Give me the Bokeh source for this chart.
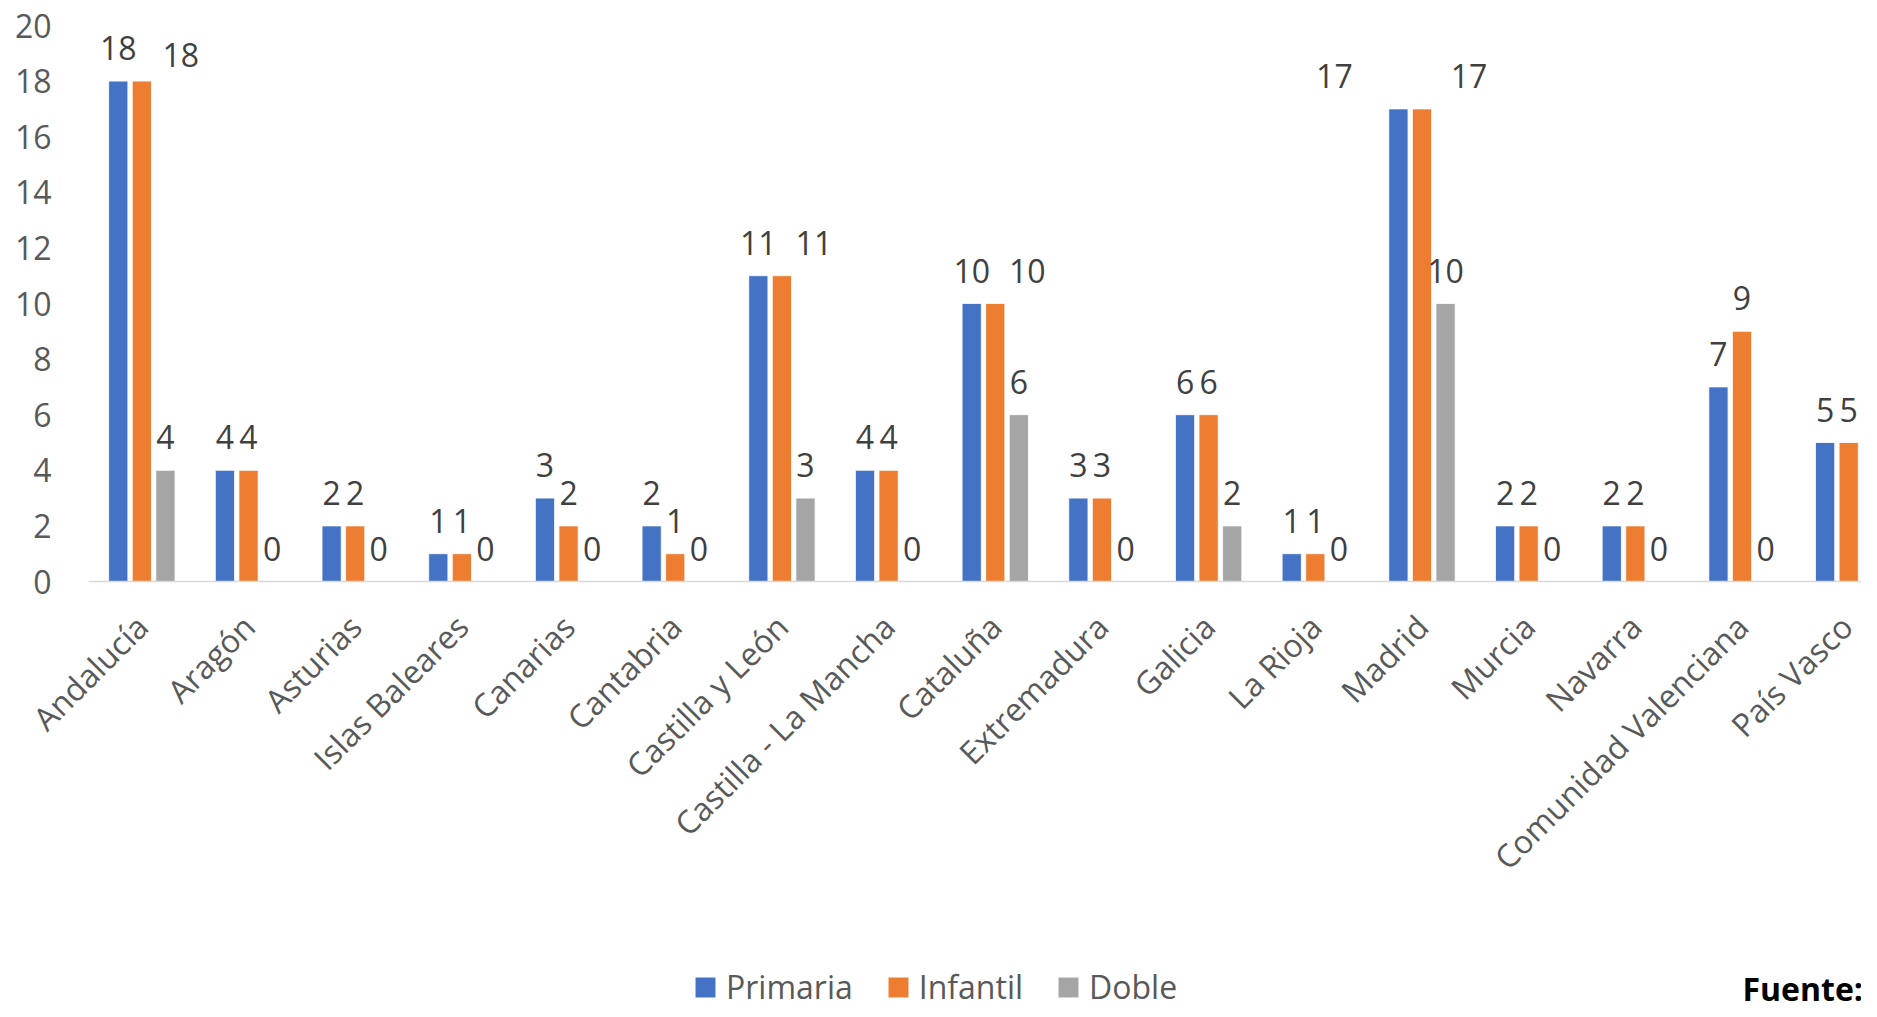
import math
from bokeh.plotting import figure
from bokeh.layouts import column
from bokeh.models import (Range1d, FixedTicker, ColumnDataSource, Legend,
                          LegendItem, Label)
from bokeh.core.properties import value
from bokeh.embed import file_html
from bokeh.resources import INLINE

# ---------------- data ----------------
regions = ["Andalucía", "Aragón", "Asturias", "Islas Baleares", "Canarias",
           "Cantabria", "Castilla y León", "Castilla - La Mancha", "Cataluña",
           "Extremadura", "Galicia", "La Rioja", "Madrid", "Murcia", "Navarra",
           "Comunidad Valenciana", "País Vasco"]
primaria = [18, 4, 2, 1, 3, 2, 11, 4, 10, 3, 6, 1, 17, 2, 2, 7, 5]
infantil = [18, 4, 2, 1, 2, 1, 11, 4, 10, 3, 6, 1, 17, 2, 2, 9, 5]
doble = [4, 0, 0, 0, 0, 0, 3, 0, 6, 0, 2, 0, 10, 0, 0, 0, 0]
series_names = ["Primaria", "Infantil", "Doble"]
y_ticks = [0, 2, 4, 6, 8, 10, 12, 14, 16, 18, 20]
source_note = "Fuente:"

# ---------------- style ----------------
colors = {"Primaria": "#4472C4", "Infantil": "#ED7D31", "Doble": "#A5A5A5"}
dodge = {"Primaria": -0.221, "Infantil": 0.0, "Doble": 0.221}
bar_w = 0.18
FONT = "Open Sans"
FS = "32px"
# data-label nudges in screen pixels (Excel placed some labels aside)
nudges = {("Primaria", "Madrid"): (-64, 0),
          ("Infantil", "Andalucía"): (39, 7),
          ("Infantil", "Castilla y León"): (32, 0),
          ("Infantil", "Cataluña"): (32, 0),
          ("Infantil", "Madrid"): (47, 0)}

W = 1861
H_MAIN, H_LEG = 938, 63
FRAME_LEFT, FRAME_TOP, FRAME_BOTTOM = 88, 25, 581

p = figure(width=W, height=H_MAIN, x_range=Range1d(-0.5, 16.12),
           y_range=Range1d(0, 20), output_backend="svg",
           toolbar_location=None)
p.outline_line_color = None
p.xgrid.grid_line_color = None
p.ygrid.grid_line_color = None
p.min_border_left = FRAME_LEFT
p.min_border_right = 0
p.min_border_top = FRAME_TOP
p.min_border_bottom = H_MAIN - FRAME_BOTTOM
p.background_fill_color = "white"
p.border_fill_color = "white"

values = {"Primaria": primaria, "Infantil": infantil, "Doble": doble}
for s in series_names:
    xs = [i + dodge[s] for i in range(len(regions))]
    vals = values[s]
    src = ColumnDataSource(dict(
        x=xs, top=vals, lab=[str(v) for v in vals],
        dx=[nudges.get((s, r), (0, 0))[0] for r in regions],
        dy=[-33 + nudges.get((s, r), (0, 0))[1] for r in regions]))
    p.vbar(x="x", top="top", width=bar_w, bottom=0, source=src,
           fill_color=colors[s], line_color="white", line_width=0.8)
    p.text(x="x", y="top", text="lab", x_offset="dx", y_offset="dy",
           source=src, text_font=value(FONT), text_font_size=FS,
           text_color="#404040", text_align="center",
           text_baseline="middle")

# y axis
p.yaxis.ticker = FixedTicker(ticks=y_ticks)
p.yaxis.axis_line_color = None
p.yaxis.major_tick_line_color = None
p.yaxis.minor_tick_line_color = None
p.yaxis.major_label_standoff = 31
p.yaxis.major_label_text_font = FONT
p.yaxis.major_label_text_font_size = FS
p.yaxis.major_label_text_color = "#595959"

# x axis
p.xaxis.ticker = FixedTicker(ticks=list(range(len(regions))))
p.xaxis.major_label_overrides = {i: r for i, r in enumerate(regions)}
p.xaxis.major_label_orientation = math.pi / 4
p.xaxis.axis_line_color = "#D9D9D9"
p.xaxis.axis_line_width = 1.5
p.xaxis.major_tick_line_color = None
p.xaxis.minor_tick_line_color = None
p.xaxis.major_label_standoff = 33
p.xaxis.major_label_text_font = FONT
p.xaxis.major_label_text_font_size = FS
p.xaxis.major_label_text_color = "#595959"

# ---------------- legend strip ----------------
q = figure(width=W, height=H_LEG, x_range=Range1d(0, 1), y_range=Range1d(0, 1),
           x_axis_type=None, y_axis_type=None, output_backend="svg",
           toolbar_location=None)
q.outline_line_color = None
q.xgrid.grid_line_color = None
q.ygrid.grid_line_color = None
q.min_border_left = 0
q.min_border_right = 0
q.min_border_top = 0
q.min_border_bottom = 0
q.border_fill_color = "white"
q.background_fill_color = "white"

items = []
for s in series_names:
    # off-range proxy bar, only used for the legend key
    r = q.vbar(x=[5], top=[5], bottom=[4], width=0.1, fill_color=colors[s],
               line_color="white", line_width=0.8)
    items.append(LegendItem(label=s, renderers=[r]))

# the legend strip's frame is aligned with the main frame (left edge at 88)
legend = Legend(items=items, orientation="horizontal",
                location=(692 - FRAME_LEFT, -7),
                glyph_width=26, glyph_height=26, label_standoff=8,
                spacing=32, padding=0, margin=0,
                border_line_color=None, background_fill_alpha=0,
                label_text_font=FONT, label_text_font_size=FS,
                label_text_color="#595959")
q.add_layout(legend, "center")

note = Label(x=1742 - FRAME_LEFT, y=13, x_units="screen", y_units="screen",
             text=source_note, text_font=FONT, text_font_size=FS,
             text_font_style="bold", text_color="black",
             text_baseline="alphabetic")
q.add_layout(note)

layout = column(p, q, spacing=0)
open("out.html", "w").write(file_html(layout, INLINE))
